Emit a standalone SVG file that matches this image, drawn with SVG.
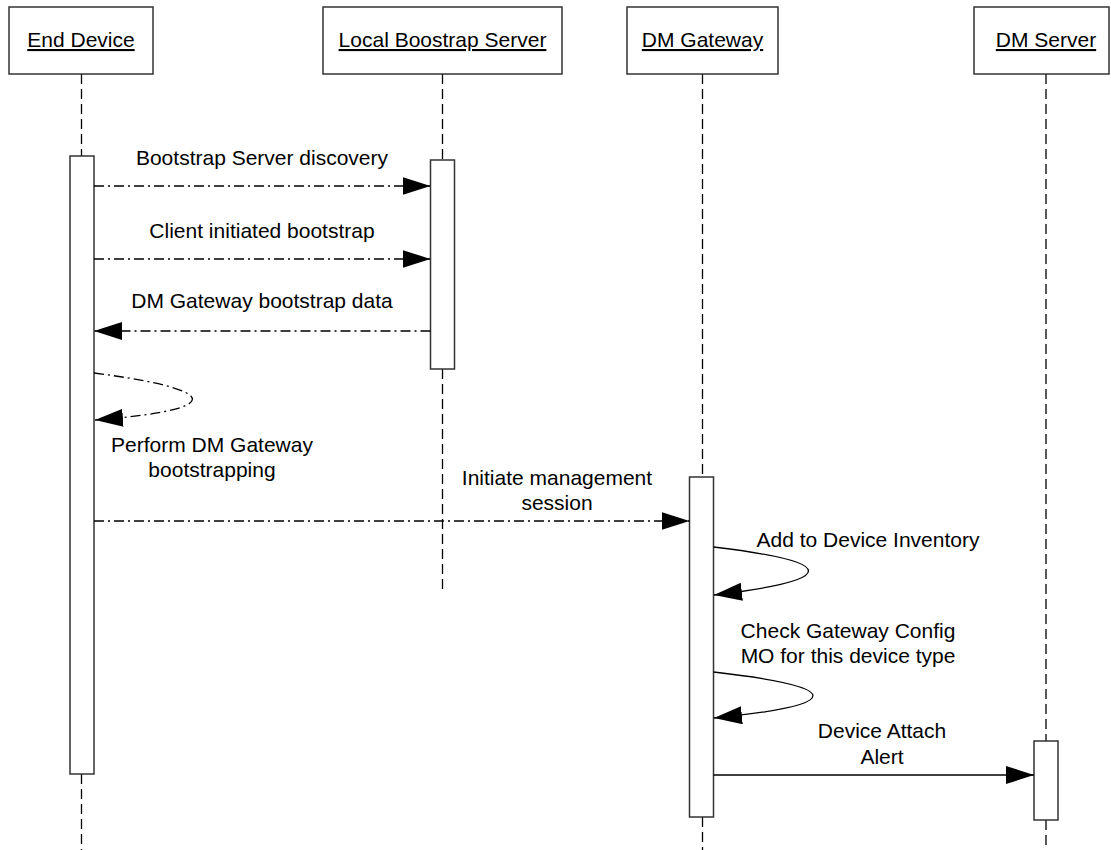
<svg xmlns="http://www.w3.org/2000/svg" width="1111" height="850" viewBox="0 0 1111 850">
<style>
text{font-family:"Liberation Sans",Arial,sans-serif;font-size:21px;fill:#000}
.hd{text-anchor:middle;text-decoration:underline}
.mid{text-anchor:middle}
.box{fill:#fff;stroke:#333;stroke-width:1.5}
.bar{fill:#fff;stroke:#333;stroke-width:1.5}
.life{stroke:#000;stroke-width:1.3;stroke-dasharray:10 5;fill:none}
.dd{stroke:#000;stroke-width:1.3;stroke-dasharray:10 4 2 4;fill:none}
.sol{stroke:#000;stroke-width:1.3;fill:none}
</style>
<defs>
<marker id="ah" markerUnits="userSpaceOnUse" viewBox="0 0 28 18" refX="28" refY="9" markerWidth="28" markerHeight="18" orient="auto">
<path d="M0,0 L28,9 L0,18 z" fill="#000"/>
</marker>
</defs>
<rect width="1111" height="850" fill="#fff"/>
<g id="lifelines">
<path class="life" d="M81.5,74 V156 M81.5,774 V850"/>
<path class="life" d="M442.5,74 V160 M442.5,369 V594"/>
<path class="life" d="M702.5,74 V477 M702.5,817 V850"/>
<path class="life" d="M1046,74 V741 M1046,820 V850"/>
</g>
<g id="end-device">
<rect class="box" x="9" y="7" width="144" height="67"/>
<text class="hd" x="81" y="47">End Device</text>
<rect class="bar" x="70" y="156" width="24" height="618"/>
</g>
<g id="local-bootstrap-server">
<rect class="box" x="323" y="7" width="239" height="67"/>
<text class="hd" x="442.5" y="47">Local Boostrap Server</text>
<rect class="bar" x="430.5" y="160" width="24" height="209"/>
</g>
<g id="dm-gateway">
<rect class="box" x="627" y="7" width="151" height="67"/>
<text class="hd" x="702.5" y="47">DM Gateway</text>
<rect class="bar" x="689.5" y="477" width="24" height="340"/>
</g>
<g id="dm-server">
<rect class="box" x="974" y="7" width="135" height="67"/>
<text class="hd" x="1046" y="47">DM Server</text>
<rect class="bar" x="1034" y="741" width="24" height="79"/>
</g>
<g id="connectors">
<path class="dd" d="M94,186 H430.5" marker-end="url(#ah)"/>
<text class="mid" x="262" y="165">Bootstrap Server discovery</text>
<path class="dd" d="M94,259 H430.5" marker-end="url(#ah)"/>
<text class="mid" x="262" y="238">Client initiated bootstrap</text>
<path class="dd" d="M430.5,331 H94" marker-end="url(#ah)"/>
<text class="mid" x="262" y="308">DM Gateway bootstrap data</text>
<path class="dd" d="M94,373 C225,390 225,410 95,420" marker-end="url(#ah)"/>
<text class="mid" x="212" y="452">Perform DM Gateway</text>
<text class="mid" x="212" y="477">bootstrapping</text>
<path class="dd" d="M94,521 H689.5" marker-end="url(#ah)"/>
<text class="mid" x="557" y="485">Initiate management</text>
<text class="mid" x="557" y="510">session</text>
<path class="sol" d="M713.5,547 C840,562 840,580 714,595" marker-end="url(#ah)"/>
<text class="mid" x="868" y="547">Add to Device Inventory</text>
<path class="sol" d="M713.5,672 C846,687 846,705 714,718" marker-end="url(#ah)"/>
<text class="mid" x="848" y="638">Check Gateway Config</text>
<text class="mid" x="848" y="663">MO for this device type</text>
<path class="sol" d="M713.5,775 H1034" marker-end="url(#ah)"/>
<text class="mid" x="882" y="738">Device Attach</text>
<text class="mid" x="882" y="764">Alert</text>
</g>
</svg>
